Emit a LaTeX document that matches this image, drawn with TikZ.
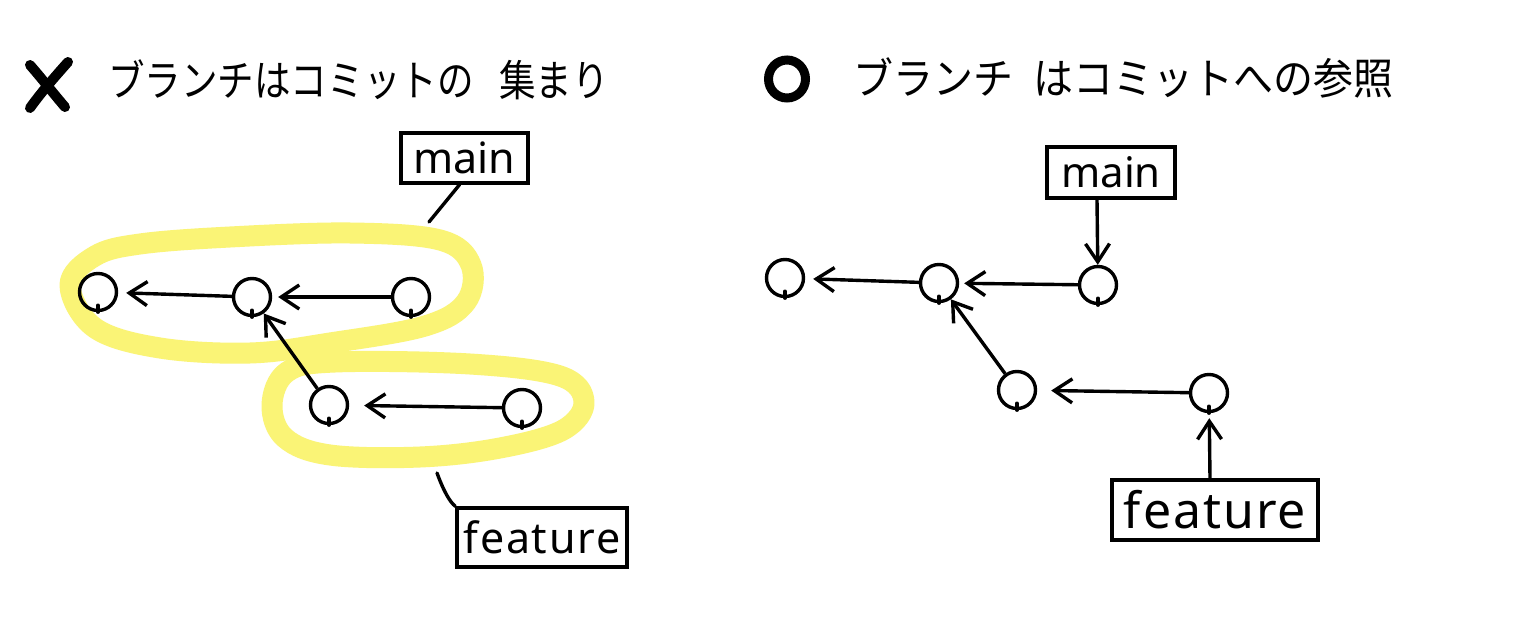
\documentclass[tikz,border=0pt]{standalone}
\usepackage{fontspec}
\usepackage{graphicx}
\usetikzlibrary{arrows.meta}
\newfontfamily\jpfont{Noto Sans CJK JP}
\newfontfamily\hwfont{Noto Sans}
\definecolor{hl}{RGB}{250,244,118}
\tikzset{
  commit/.style={circle, draw, line width=3.4pt, minimum size=37pt, inner sep=0pt},
  label box/.style={draw, line width=3.4pt, inner sep=0pt, font=\hwfont\fontsize{43}{48}\selectfont},
  arr/.style={line width=3.4pt, -{Straight Barb[length=18pt,width=24pt,line width=3.4pt]}},
  plainline/.style={line width=3.4pt, line cap=round},
  hiloop/.style={draw=hl, line width=21pt, line cap=round, line join=round},
  titletext/.style={font=\jpfont\fontsize{43}{48}\selectfont, anchor=west, inner sep=0pt},
  bigmark/.style={line width=10pt, line cap=round}
}
\begin{document}
\begin{tikzpicture}[x=1pt,y=-1pt]
\fill[white] (0,0) rectangle (1516,623);
\useasboundingbox (0,0) rectangle (1516,623);

% ---------- left panel ----------
\draw[bigmark] (30,65) .. controls (43,80) and (53,93) .. (65,107);
\draw[bigmark] (68,62) .. controls (52,80) and (40,94) .. (30,108);
\node[titletext] (tl) at (108,80) {\scalebox{0.85}[1]{ブランチはコミットの\hspace{30pt}集まり}};

\draw[hiloop] plot[smooth cycle, tension=0.6] coordinates {(70,285) (95,256) (140,244) (230,237) (350,233) (440,240) (471,265) (466,302) (425,326) (330,343) (250,353) (160,348) (95,328)};
\draw[hiloop] plot[smooth cycle, tension=0.6] coordinates {(272,405) (287,372) (335,362) (470,364) (560,376) (584,402) (563,430) (500,448) (420,457) (330,455) (285,438)};

\node[commit] (l1) at (98,292) {};
\node[commit] (l2) at (252,297) {};
\node[commit] (l3) at (411,297) {};
\node[commit] (l4) at (329,405) {};
\node[commit] (l5) at (522,408) {};
\foreach \n in {l1,l2,l3,l4,l5} \draw[plainline] (\n.south) -- ++(0,-7);

\draw[arr, shorten >=8pt] (l2) -- (l1);
\draw[arr, shorten >=6pt] (l3) -- (l2);
\draw[arr, shorten >=15pt] (l5) -- (l4);
\draw[arr] (l4) -- (l2);

\node[label box, minimum width=127pt, minimum height=50pt] (mainL) at (464.5,158) {main};
\node[label box, minimum width=170pt, minimum height=59pt] (featL) at (542,537.5) {\addfontfeatures{LetterSpace=4}feature};
\coordinate (mlend) at (429,222);
\coordinate (flstart) at (437,473);
\draw[plainline] ([xshift=-5pt]mainL.south) -- (mlend);
\draw[plainline] (flstart) .. controls (444,492) and (450,502) .. (featL.north west);

% ---------- right panel ----------
\draw[line width=9pt] (787,79) ellipse [x radius=18.5pt, y radius=19pt];
\node[titletext] (tr) at (853,78) {\scalebox{0.93}[1]{ブランチ\hspace{22pt}はコミットへの参照}};

\node[commit] (r1) at (785,278) {};
\node[commit] (r2) at (939,283) {};
\node[commit] (r3) at (1098,285) {};
\node[commit] (r4) at (1017,390) {};
\node[commit] (r5) at (1209,393) {};
\foreach \n in {r1,r2,r3,r4,r5} \draw[plainline] (\n.south) -- ++(0,-7);

\draw[arr, shorten >=8pt] (r2) -- (r1);
\draw[arr, shorten >=5pt] (r3) -- (r2);
\draw[arr, shorten >=14pt] (r5) -- (r4);
\draw[arr] (r4) -- (r2);

\node[label box, minimum width=128pt, minimum height=51pt, font=\hwfont\fontsize{42}{48}\selectfont] (mainR) at (1111,172.5) {main};
\node[label box, minimum width=206pt, minimum height=60pt, font=\hwfont\fontsize{50}{56}\selectfont] (featR) at (1215,510) {\addfontfeatures{LetterSpace=4}feature};
\draw[arr] ([xshift=-14pt]mainR.south) -- (r3);
\draw[arr, shorten >=5pt] ([xshift=-5pt]featR.north) -- (r5);
\end{tikzpicture}
\end{document}
